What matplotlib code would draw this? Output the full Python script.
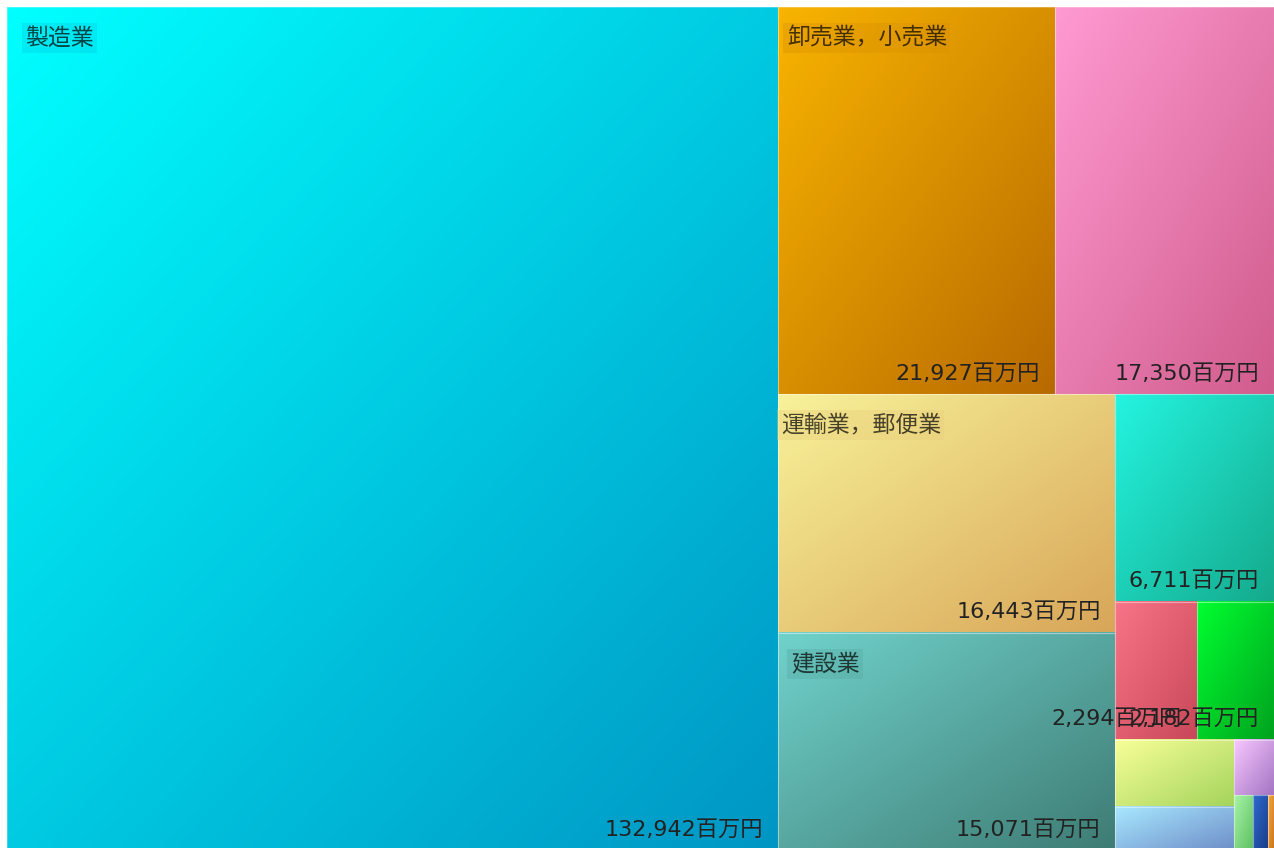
import matplotlib.pyplot as plt
import numpy as np
from matplotlib.colors import to_rgb
from matplotlib.patches import Rectangle

plt.rcParams['font.family'] = ['Noto Sans CJK JP', 'DejaVu Sans']

# ______________________________________________________________________________
# Data (百万円), largest first

names = ['製造業', '卸売業，小売業', '', '運輸業，郵便業', '建設業', '', '', '',
         '', '', '', '', '', '']
values = [132942, 21927, 17350, 16443, 15071, 6711, 2294, 2182,
          1630, 1070, 450, 215, 170, 70]
show_value = [True] * 8 + [False] * 6

# gradient colours: top-left -> bottom-right
light = ['#00ffff', '#f8b400', '#ff9ad2', '#f8f29a', '#70d2cc', '#24f4e0',
         '#f87488', '#00ff30', '#f8ff98', '#a8e8ff', '#f8c8ff', '#a8f4a8',
         '#2e6ad0', '#f4a840']
dark = ['#0096c4', '#b86a00', '#d05c8c', '#d8a658', '#3e7c74', '#14aa8c',
        '#c84858', '#00a21e', '#a4d45c', '#6e8ec8', '#a474c4', '#5cc060',
        '#1a3c88', '#c87018']

name_pad = [18, 9, 3, 13]


def worst(row, side, ratio):
    s = sum(row)
    f = side * side * ratio
    return max(f * max(row) / s ** 2, s ** 2 / (f * min(row)))


def squarify(vals, x, y, w, h, ratio=(1 + 5 ** 0.5) / 2):
    """Squarified layout aiming at golden-ratio cells; y grows downward."""
    scale = w * h / sum(vals)
    areas = [v * scale for v in vals]
    rects = []
    i = 0
    while i < len(areas):
        side = min(w, h)
        row = [areas[i]]
        best = worst(row, side, ratio)
        j = i + 1
        while j < len(areas):
            score = worst(row + [areas[j]], side, ratio)
            if score <= best or j == len(areas) - 1:
                row.append(areas[j])
                best = score
                j += 1
            else:
                break
        s = sum(row)
        if w <= h:
            t = s / w
            cx = x
            for a in row:
                rects.append((cx, y, a / t, t))
                cx += a / t
            y += t
            h -= t
        else:
            t = s / h
            cy = y
            for a in row:
                rects.append((x, cy, t, a / t))
                cy += a / t
            x += t
            w -= t
        i = j
    return rects


W, H = 1267, 844
fig = plt.figure(figsize=(12.74, 8.48), dpi=100)
ax = fig.add_axes([7 / 1274, -3 / 848, W / 1274, H / 848])

rects = squarify(values, 0, 0, W, H)
n = 64
gx, gy = np.meshgrid(np.linspace(0, 1, n), np.linspace(0, 1, n))
grad = ((gx + gy) / 2)[..., None]

for k, (x, y, w, h) in enumerate(rects):
    c0 = np.array(to_rgb(light[k]))
    c1 = np.array(to_rgb(dark[k]))
    img = c0 * (1 - grad) + c1 * grad
    ax.imshow(img, extent=(x, x + w, y + h, y), aspect='auto',
              interpolation='bilinear', zorder=1)
    ax.add_patch(Rectangle((x, y), w, h, fill=False, edgecolor='white',
                           alpha=0.25, lw=0.8, zorder=2))

label_k = 0
for k, (x, y, w, h) in enumerate(rects):
    if names[k]:
        mid = (np.array(to_rgb(light[k])) + np.array(to_rgb(dark[k]))) / 2
        ax.text(x + name_pad[label_k], y + 31, names[k], ha='left', va='center',
                fontsize=16.5, color='black', alpha=0.7, zorder=4,
                bbox=dict(boxstyle='square,pad=0.15', facecolor=mid,
                          edgecolor='none', alpha=0.35))
        label_k += 1

for k, (x, y, w, h) in enumerate(rects):
    if show_value[k]:
        ax.text(x + w - 15, y + h - 21, '{:,}百万円'.format(values[k]),
                ha='right', va='center', fontsize=16, color='#222222',
                family=['DejaVu Sans', 'Noto Sans CJK JP'], zorder=5,
                clip_on=False)

ax.set_xlim(0, W)
ax.set_ylim(H, 0)
ax.axis('off')

fig.savefig('out.png', dpi=100)
